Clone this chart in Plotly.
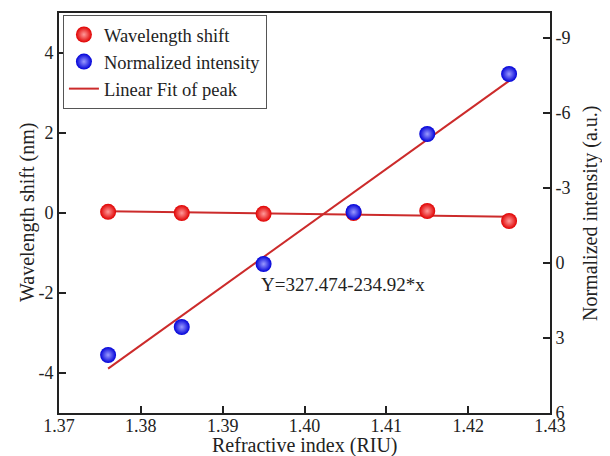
import numpy as np
import plotly.graph_objects as go

# Data
refractive_index = [1.376, 1.385, 1.395, 1.406, 1.415, 1.425]
wavelength_shift = [0.03, 0.0, -0.02, 0.0, 0.05, -0.2]
normalized_intensity = [3.68, 2.56, 0.04, -2.04, -5.16, -7.56]
fit_intercept = 327.474
fit_slope = -234.92
fit_label = "Y=327.474-234.92*x"

x_ticks = [1.37, 1.38, 1.39, 1.40, 1.41, 1.42, 1.43]
x_ticktext = ["1.37", "1.38", "1.39", "1.40", "1.41", "1.42", "1.43"]
y_ticks = [-4, -2, 0, 2, 4]
y_ticktext = ["-4", "-2", "0", "2", "4"]
y2_ticks = [-9, -6, -3, 0, 3, 6]
y2_ticktext = ["-9", "-6", "-3", "0", "3", "6"]

x_title = "Refractive index (RIU)"
y_title = "Wavelength shift (nm)"
y2_title = "Normalized intensity (a.u.)"

FONT = "Liberation Serif, Times New Roman, serif"
LINE_COLOR = "#cc2b2b"
TXT = "#222"

x_arr = np.array(refractive_index)
x_fit = np.array([x_arr.min(), x_arr.max()])

# Linear fits
ws_coef = np.polyfit(x_arr, np.array(wavelength_shift), 1)
ws_fit = np.polyval(ws_coef, x_fit)
ni_fit = fit_intercept + fit_slope * x_fit

fig = go.Figure()

fig.add_trace(go.Scatter(
    x=list(x_fit), y=list(ws_fit), mode="lines",
    name="Linear Fit of peak", legendrank=3,
    line=dict(color=LINE_COLOR, width=2),
))
fig.add_trace(go.Scatter(
    x=list(x_fit), y=list(ni_fit), mode="lines", yaxis="y2",
    showlegend=False,
    line=dict(color=LINE_COLOR, width=2),
))
fig.add_trace(go.Scatter(
    x=refractive_index, y=wavelength_shift, mode="markers",
    name="Wavelength shift", legendrank=1,
    marker=dict(size=16, color="#e00000",
                gradient=dict(type="radial", color="#ff9a9a"),
                line=dict(width=0)),
))
fig.add_trace(go.Scatter(
    x=refractive_index, y=normalized_intensity, mode="markers",
    name="Normalized intensity", yaxis="y2", legendrank=2,
    marker=dict(size=16, color="#0000d8",
                gradient=dict(type="radial", color="#9a9aff"),
                line=dict(width=0)),
))

fig.add_annotation(
    x=1.3945, y=-1.78, xref="x", yref="y", text=fit_label,
    showarrow=False, xanchor="left", yanchor="middle",
    font=dict(family=FONT, size=19, color=TXT),
)

title_font = dict(family=FONT, size=20, color=TXT)
fig.add_annotation(x=0.5, y=0, xref="paper", yref="paper", text=x_title,
                   showarrow=False, xanchor="center", yanchor="middle",
                   yshift=-32, font=title_font)
fig.add_annotation(x=0, y=0.5, xref="paper", yref="paper", text=y_title,
                   showarrow=False, xanchor="center", yanchor="middle",
                   xshift=-32, textangle=-90, font=title_font)
fig.add_annotation(x=1, y=0.5, xref="paper", yref="paper", text=y2_title,
                   showarrow=False, xanchor="center", yanchor="middle",
                   xshift=40, textangle=-90, font=title_font)

axis_common = dict(
    showline=True, linecolor=TXT, linewidth=2,
    ticks="inside", ticklen=7, tickwidth=1.5, tickcolor=TXT,
    showgrid=False, zeroline=False, automargin=False,
    tickfont=dict(family=FONT, size=18, color=TXT),
)

# The page body has an 8px default margin, so the figure is sized/offset to match.
fig.update_layout(
    width=602, height=448,
    margin=dict(l=51, r=60, t=5, b=43),
    paper_bgcolor="white", plot_bgcolor="white",
    font=dict(family=FONT, color=TXT),
    xaxis=dict(range=[1.37, 1.43], tickvals=x_ticks, ticktext=x_ticktext,
               mirror=True, ticklabelstandoff=-5, **axis_common),
    yaxis=dict(range=[-5, 5], tickvals=y_ticks, ticktext=y_ticktext,
               **axis_common),
    yaxis2=dict(range=[6, -10], tickvals=y2_ticks, ticktext=y2_ticktext,
                overlaying="y", side="right", **axis_common),
    legend=dict(
        x=0.008, y=0.995, xanchor="left", yanchor="top",
        bgcolor="white", bordercolor="#555", borderwidth=1,
        font=dict(family=FONT, size=18.5, color=TXT),
        traceorder="normal", tracegroupgap=0,
    ),
    showlegend=True,
)

fig.write_html("out.html")
